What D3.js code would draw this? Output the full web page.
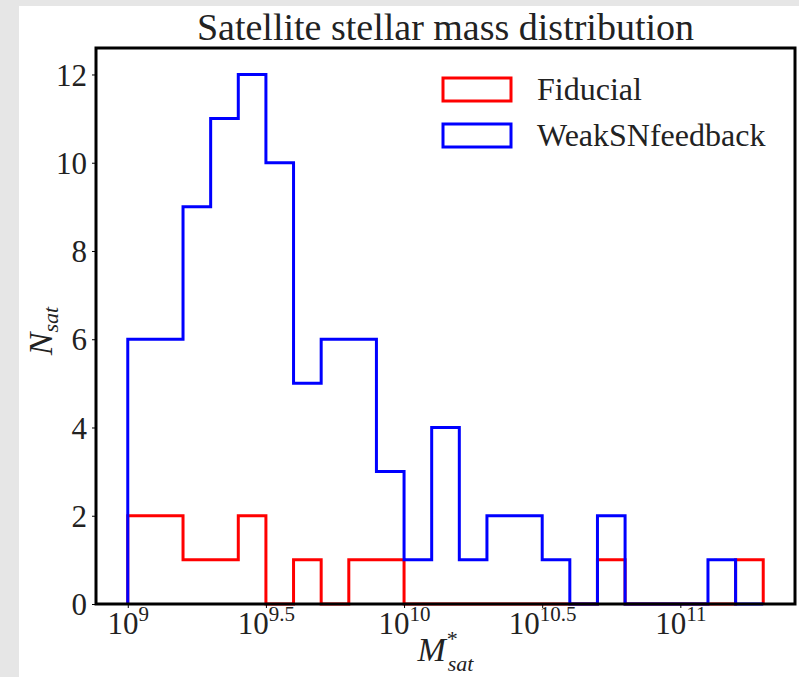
<!DOCTYPE html>
<html>
<head>
<meta charset="utf-8">
<script src="https://cdn.jsdelivr.net/npm/d3@7"></script>
<style>
  body { margin: 0; background: #e6e6e6; }
  svg { display: block; }
  text { font-family: "Liberation Serif", "DejaVu Serif", serif; fill: #222; }
</style>
</head>
<body>
<svg id="chart" width="799" height="677"></svg>
<script>
// bin edges, as log10(M*)
const binEdges = [9.0, 9.1, 9.2, 9.3, 9.4, 9.5, 9.6, 9.7, 9.8, 9.9, 10.0, 10.1,
  10.2, 10.3, 10.4, 10.5, 10.6, 10.7, 10.8, 10.9, 11.0, 11.1, 11.2, 11.3];
const fiducial = [2, 2, 1, 1, 2, 0, 1, 0, 1, 1, 0, 0, 0, 0, 0, 0, 0, 1, 0, 0, 0, 0, 1];
const weakSN = [6, 6, 9, 11, 12, 10, 5, 6, 6, 3, 1, 4, 1, 2, 2, 1, 0, 2, 0, 0, 0, 1, 0];
const xTickExp = [9, 9.5, 10, 10.5, 11];
const yTicks = [0, 2, 4, 6, 8, 10, 12];
const seriesNames = ["Fiducial", "WeakSNfeedback"];
const seriesColors = ["#ff0000", "#0000ff"];

const svg = d3.select("#chart");
const mLeft = 96, mRight = 795, mTop = 48, mBottom = 604;

svg.append("rect").attr("x", 19).attr("y", 6).attr("width", 780).attr("height", 671).attr("fill", "#fff");

const x = d3.scaleLog().domain([10 ** 8.885, 10 ** 11.415]).range([mLeft, mRight]);
const y = d3.scaleLinear().domain([0, 12.6]).range([mBottom, mTop]);

// step outline like histtype='step'
const stepPoints = (counts) => {
  const pts = [[binEdges[0], 0]];
  counts.forEach((c, i) => {
    pts.push([binEdges[i], c]);
    pts.push([binEdges[i + 1], c]);
  });
  pts.push([binEdges[binEdges.length - 1], 0]);
  return pts;
};

const line = d3.line()
  .x((d) => x(10 ** d[0]))
  .y((d) => y(d[1]));

[fiducial, weakSN].forEach((counts, k) => {
  svg.append("path")
    .attr("d", line(stepPoints(counts)))
    .attr("fill", "none")
    .attr("stroke", seriesColors[k])
    .attr("stroke-width", 3)
    .attr("stroke-linejoin", "miter");
});

// y axis
const yAxis = svg.append("g")
  .attr("transform", `translate(${mLeft},0)`)
  .call(d3.axisLeft(y).tickValues(yTicks).tickSize(4).tickPadding(5));
yAxis.select(".domain").remove();
yAxis.selectAll("line").attr("stroke", "#000").attr("stroke-width", 1);
yAxis.selectAll("text")
  .style("font-family", '"Liberation Serif", serif')
  .style("font-size", "31px")
  .attr("fill", "#222")
  .attr("dy", "0.34em");

// x axis with 10^n labels
const xAxis = svg.append("g")
  .attr("transform", `translate(0,${mBottom})`)
  .call(d3.axisBottom(x).tickValues(xTickExp.map((e) => 10 ** e)).tickSize(4).tickFormat(""));
xAxis.select(".domain").remove();
xAxis.selectAll("line").attr("stroke", "#000").attr("stroke-width", 1);
xAxis.selectAll(".tick").each(function (d, i) {
  const t = d3.select(this).append("text")
    .attr("text-anchor", "middle")
    .attr("y", 30)
    .attr("fill", "#222")
    .style("font-size", "31px");
  t.append("tspan").text("10");
  t.append("tspan").attr("dy", -13).style("font-size", "21px").text(xTickExp[i]);
});

// frame
svg.append("rect")
  .attr("x", mLeft).attr("y", mTop)
  .attr("width", mRight - mLeft).attr("height", mBottom - mTop)
  .attr("fill", "none").attr("stroke", "#000").attr("stroke-width", 3);

// title
svg.append("text")
  .attr("x", (mLeft + mRight) / 2).attr("y", 40)
  .attr("text-anchor", "middle")
  .style("font-size", "38px")
  .text("Satellite stellar mass distribution");

// axis labels
const xl = svg.append("text")
  .attr("x", (mLeft + mRight) / 2).attr("y", 661)
  .attr("text-anchor", "middle")
  .style("font-size", "34px")
  .style("font-style", "italic");
xl.append("tspan").text("M");
xl.append("tspan").attr("dy", -15).style("font-size", "22px").text("*");
xl.append("tspan").attr("dx", -9).attr("dy", 25).style("font-size", "22px").text("sat");

const yl = svg.append("text")
  .attr("transform", `translate(52,331) rotate(-90)`)
  .attr("text-anchor", "middle")
  .style("font-size", "34px")
  .style("font-style", "italic");
yl.append("tspan").text("N");
yl.append("tspan").attr("dy", 6).style("font-size", "22px").text("sat");

// legend
const legend = svg.append("g").attr("transform", "translate(443,78)");
seriesNames.forEach((name, i) => {
  const g = legend.append("g").attr("transform", `translate(0,${i * 46})`);
  g.append("rect")
    .attr("width", 68).attr("height", 23)
    .attr("fill", "none").attr("stroke", seriesColors[i]).attr("stroke-width", 3);
  g.append("text")
    .attr("x", 94).attr("y", 22)
    .style("font-size", "32px")
    .text(name);
});
</script>
</body>
</html>
